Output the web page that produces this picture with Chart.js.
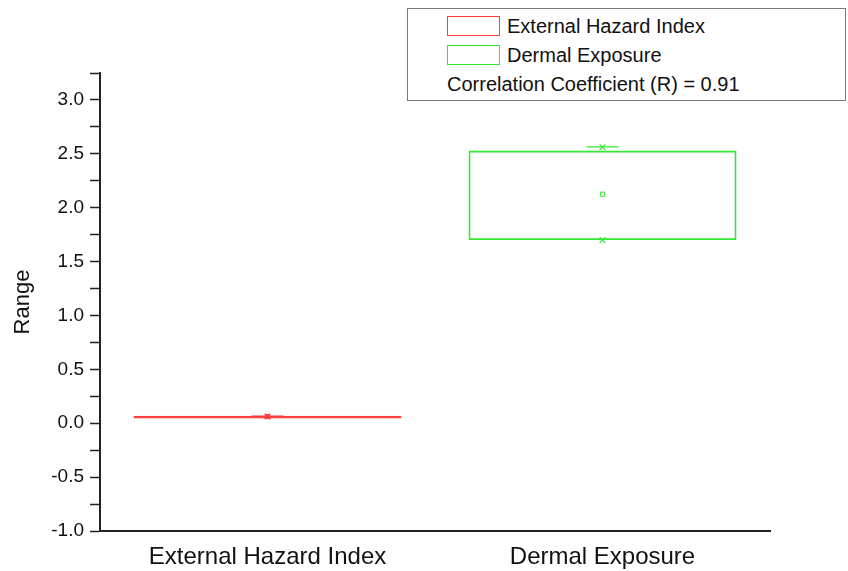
<!DOCTYPE html>
<html>
<head>
<meta charset="utf-8">
<script src="https://cdn.jsdelivr.net/npm/chart.js@4/dist/chart.umd.min.js"></script>
<style>
  html, body { margin: 0; padding: 0; background: #fff; }
  #wrap { position: relative; width: 848px; height: 571px; }
  #chart { position: absolute; left: 0; top: 0; }
  #legend {
    position: absolute; left: 407px; top: 8px; width: 437px; height: 91px;
    border: 1px solid #7a7a7a; background: #fff;
    font-family: "Liberation Sans", Arial, sans-serif; font-size: 20px; color: #111;
  }
  .row { position: absolute; left: 39px; height: 22px; line-height: 22px; white-space: nowrap; }
  .sw { display: inline-block; width: 51px; height: 18px; vertical-align: middle; margin-right: 7px; position: relative; top: -2px; }
</style>
</head>
<body>
<div id="wrap">
  <canvas id="chart" width="848" height="571"></canvas>
  <div id="legend">
    <div class="row" style="top:6px"><span class="sw" style="border:1px solid #ff4040"></span>External Hazard Index</div>
    <div class="row" style="top:35px"><span class="sw" style="border:1px solid #33e833"></span>Dermal Exposure</div>
    <div class="row" style="top:64px">Correlation Coefficient (R) = 0.91</div>
  </div>
</div>
<script>
// Categories and summary statistics for each box
const categories = ['External Hazard Index', 'Dermal Exposure'];
const boxLow  = [0.043, 1.70];
const boxHigh = [0.069, 2.53];
const means   = [0.062, 2.125];
const maxima  = [0.063, 2.56];
const minima  = [null, 1.70];
const capLevels = [0.066, 2.565];
const colors  = ['#ff4040', '#33e833'];
const yTicks  = [-1.0, -0.5, 0.0, 0.5, 1.0, 1.5, 2.0, 2.5, 3.0];

const font = { family: '"Liberation Sans", Arial, sans-serif' };

new Chart(document.getElementById('chart'), {
  data: {
    labels: categories,
    datasets: [
      {
        type: 'bar',
        data: categories.map((c, i) => [boxLow[i], boxHigh[i]]),
        backgroundColor: ['rgba(255,64,64,0.9)', 'rgba(0,0,0,0)'],
        borderColor: colors,
        borderWidth: 1.8,
        borderSkipped: false,
        barPercentage: 0.8,
        categoryPercentage: 1.0,
        order: 2
      },
      {
        type: 'line', data: capLevels, showLine: false,
        pointStyle: 'line', pointRadius: 16, pointBorderWidth: 1.2,
        pointBorderColor: colors, pointBackgroundColor: colors, order: 1
      },
      {
        type: 'line', data: maxima, showLine: false,
        pointStyle: 'crossRot', pointRadius: 4, pointBorderWidth: 1.2,
        pointBorderColor: colors, pointBackgroundColor: colors, order: 1
      },
      {
        type: 'line', data: minima, showLine: false,
        pointStyle: 'crossRot', pointRadius: 4, pointBorderWidth: 1.2,
        pointBorderColor: colors, pointBackgroundColor: colors, order: 1
      },
      {
        type: 'line', data: means, showLine: false,
        pointStyle: 'rect', pointRadius: 3, pointBorderWidth: 1,
        pointBorderColor: colors, pointBackgroundColor: ['rgba(220,20,20,0.9)', 'rgba(255,255,255,0)'], order: 1
      }
    ]
  },
  options: {
    responsive: false,
    animation: false,
    events: [],
    layout: { padding: { left: 0, right: 78, top: 73, bottom: 0 } },
    plugins: { legend: { display: false }, tooltip: { enabled: false } },
    scales: {
      x: {
        type: 'category',
        offset: true,
        grid: { display: false, drawOnChartArea: false, drawTicks: true, tickLength: 8, tickColor: '#222', tickWidth: 1.5, offset: false },
        border: { display: true, color: '#222', width: 2 },
        ticks: {
          color: '#111', padding: 4,
          font: { ...font, size: 24 }
        },
        afterFit(scale) { scale.height = 40; }
      },
      y: {
        min: -1.0, max: 3.25,
        grid: { drawOnChartArea: false, drawTicks: true, tickLength: 10, tickColor: '#222', tickWidth: 1.5 },
        border: { display: true, color: '#222', width: 2 },
        ticks: {
          stepSize: 0.25,
          color: '#111', padding: 6,
          font: { ...font, size: 19 },
          callback(v) {
            const r = Math.round(v * 100) / 100;
            return yTicks.includes(r) ? r.toFixed(1) : '';
          }
        },
        title: { display: true, text: 'Range', color: '#111', font: { ...font, size: 22 }, padding: { top: 10, bottom: 0 } },
        afterFit(scale) { scale.width = 100; }
      }
    }
  }
});
</script>
</body>
</html>
